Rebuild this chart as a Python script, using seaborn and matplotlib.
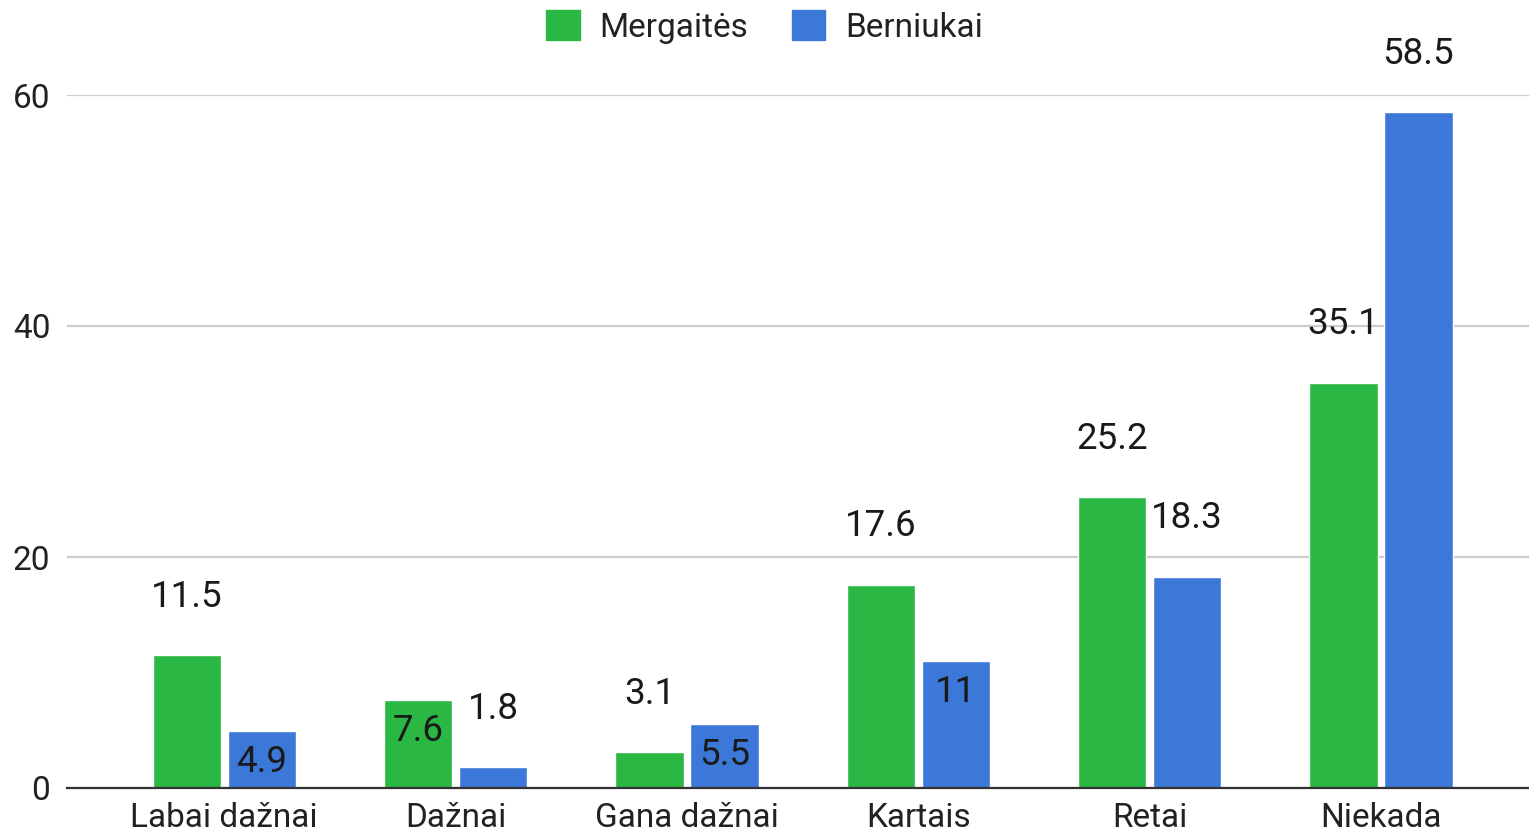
import matplotlib
matplotlib.use("Agg")
import matplotlib.pyplot as plt
import seaborn as sns
import pandas as pd
from matplotlib.patches import Patch

# ---- data ----
categories = ["Labai dažnai", "Dažnai", "Gana dažnai", "Kartais", "Retai", "Niekada"]
series_names = ["Mergaitės", "Berniukai"]
mergaites = [11.5, 7.6, 3.1, 17.6, 25.2, 35.1]
berniukai = [4.9, 1.8, 5.5, 11, 18.3, 58.5]
y_ticks = [0, 20, 40, 60]

# ---- style ----
colors = ["#2bb743", "#3c78d8"]
# label placement per bar: True = inside top of bar, False = above bar
inside_m = [False, True, False, False, False, False]
inside_b = [True, False, True, True, False, False]

df = pd.DataFrame({
    "cat": categories * 2,
    "series": [series_names[0]] * len(categories) + [series_names[1]] * len(categories),
    "val": mergaites + berniukai,
})

sns.set_theme(style="white")
plt.rcParams["font.family"] = ["Roboto", "DejaVu Sans"]

fig = plt.figure(figsize=(15.29, 8.33), dpi=100)
ax = fig.add_axes([67 / 1529, 1 - 788 / 833, 1 - 67 / 1529, (788 - 95) / 833])

sns.barplot(data=df, x="cat", y="val", hue="series", order=categories,
            hue_order=series_names, palette=colors, width=0.648, gap=0.09,
            saturation=1, legend=False, ax=ax, errorbar=None)

ax.set_xlim(-0.68, 5.64)
ax.set_ylim(0, 60)
ax.set_yticks(y_ticks)
ax.set_yticklabels([str(t) for t in y_ticks])
ax.set_xlabel("")
ax.set_ylabel("")
ax.grid(axis="y", color="#cccccc", linewidth=1.6)
ax.grid(axis="x", visible=False)
ax.set_axisbelow(True)
for s in ["left", "right", "top"]:
    ax.spines[s].set_visible(False)
ax.spines["bottom"].set_color("#333333")
ax.spines["bottom"].set_linewidth(1.6)
ax.spines["bottom"].set_zorder(5)
ax.tick_params(axis="x", length=0, pad=10, labelsize=24, labelcolor="#222222")
ax.tick_params(axis="y", length=0, pad=12, labelsize=24, labelcolor="#222222")

for cont, vals, inside in zip(ax.containers, [mergaites, berniukai], [inside_m, inside_b]):
    for bar, v, ins in zip(cont, vals, inside):
        cx = bar.get_x() + bar.get_width() / 2
        top = bar.get_height()
        label = f"{v:g}"
        off = -22 if ins else 42
        ax.annotate(label, (cx, top), xytext=(0, off), textcoords="offset points",
                    ha="center", va="center", fontsize=26.5, color="#1a1a1a",
                    annotation_clip=False, zorder=6)

handles = [Patch(facecolor=c, edgecolor=c) for c in colors]
fig.legend(handles, series_names, loc="center", bbox_to_anchor=(0.5, 1 - 27 / 833),
           ncol=2, frameon=False, fontsize=24, handlelength=1.0, handleheight=1.0,
           handletextpad=0.6, columnspacing=1.3, labelcolor="#222222")

fig.savefig("out.png", dpi=100)
